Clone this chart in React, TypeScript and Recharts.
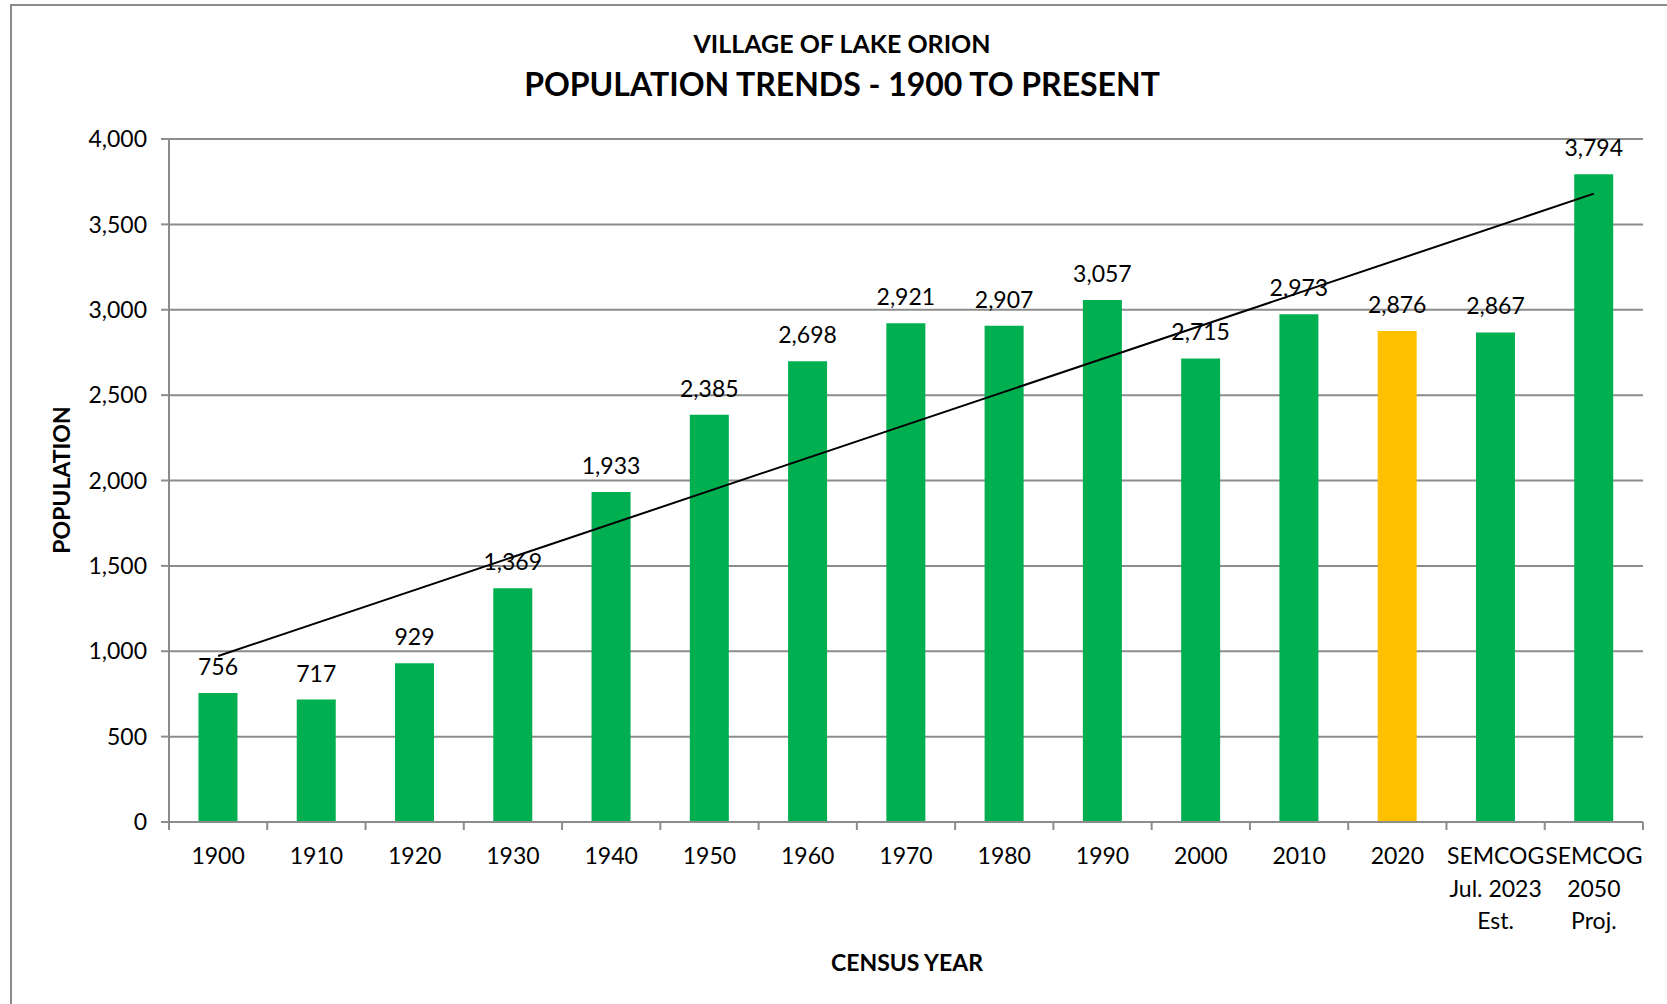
import {
  BarChart,
  Bar,
  Cell,
  XAxis,
  YAxis,
  CartesianGrid,
  LabelList,
  ReferenceLine,
} from "recharts";

// Census years plus the two SEMCOG figures; "\n" splits the tick label lines.
const CATEGORIES = [
  "1900",
  "1910",
  "1920",
  "1930",
  "1940",
  "1950",
  "1960",
  "1970",
  "1980",
  "1990",
  "2000",
  "2010",
  "2020",
  "SEMCOG\nJul. 2023\nEst.",
  "SEMCOG\n2050\nProj.",
];
const POPULATION = [
  756, 717, 929, 1369, 1933, 2385, 2698, 2921, 2907, 3057, 2715, 2973, 2876,
  2867, 3794,
];
const Y_TICKS = [0, 500, 1000, 1500, 2000, 2500, 3000, 3500, 4000];

// Linear trend line ends.
const TREND_START = 972;
const TREND_END = 3680;

const HIGHLIGHT = "2020";

const GREEN = "#00b050";
const YELLOW = "#ffc000";
const GRID = "#8c8c8c";
const FONT = "Lato, 'Open Sans', sans-serif";

const rows = CATEGORIES.map((c, i) => ({ year: c, pop: POPULATION[i] }));

function YearTick(props: any) {
  const { x, y, payload, index } = props;
  const half = payload.offset ?? 0;
  const lines = String(payload.value).split("\n");
  const last = index === CATEGORIES.length - 1;
  return (
    <g>
      <line x1={x - half} x2={x - half} y1={y - 8} y2={y} stroke={GRID} strokeWidth={2} />
      {last && <line x1={x + half} x2={x + half} y1={y - 8} y2={y} stroke={GRID} strokeWidth={2} />}
      <text x={x} y={y + 34} textAnchor="middle" fontSize={23} fill="#000" fontFamily={FONT}>
        {lines.map((l, i) => (
          <tspan key={i} x={x} dy={i === 0 ? 0 : 32.5}>
            {l}
          </tspan>
        ))}
      </text>
    </g>
  );
}

export default function App() {
  return (
    <div
      style={{
        position: "absolute",
        left: 0,
        top: 0,
        width: 1667,
        height: 1004,
        overflow: "hidden",
        background: "#fff",
        fontFamily: FONT,
      }}
    >
      <div
        style={{
          position: "absolute",
          left: 10,
          top: 4,
          width: 1700,
          height: 1100,
          border: "2px solid #8c8c8c",
        }}
      />
      <div
        style={{
          position: "absolute",
          left: 842,
          top: 31,
          transform: "translateX(-50%)",
          whiteSpace: "nowrap",
          fontSize: 25,
          lineHeight: 1,
          fontWeight: 700,
        }}
      >
        VILLAGE OF LAKE ORION
      </div>
      <div
        style={{
          position: "absolute",
          left: 842,
          top: 68,
          transform: "translateX(-50%)",
          whiteSpace: "nowrap",
          fontSize: 32,
          lineHeight: 1,
          fontWeight: 700,
        }}
      >
        POPULATION TRENDS - 1900 TO PRESENT
      </div>
      <div
        style={{
          position: "absolute",
          left: 61,
          top: 480,
          transform: "translate(-50%, -50%) rotate(-90deg)",
          whiteSpace: "nowrap",
          fontSize: 23,
          lineHeight: 1,
          fontWeight: 700,
        }}
      >
        POPULATION
      </div>
      <div
        style={{
          position: "absolute",
          left: 907,
          top: 962,
          transform: "translate(-50%, -50%)",
          whiteSpace: "nowrap",
          fontSize: 23,
          lineHeight: 1,
          fontWeight: 700,
        }}
      >
        CENSUS YEAR
      </div>
      <div style={{ position: "absolute", left: 0, top: 0 }}>
        <BarChart
          width={1667}
          height={1004}
          data={rows}
          margin={{ top: 139, right: 24, bottom: 122, left: 89 }}
          barCategoryGap="30%"
        >
          <CartesianGrid vertical={false} stroke={GRID} strokeWidth={2} />
          <XAxis
            dataKey="year"
            height={60}
            interval={0}
            axisLine={{ stroke: GRID, strokeWidth: 2 }}
            tickLine={false}
            tick={<YearTick />}
          />
          <YAxis
            width={80}
            domain={[0, 4000]}
            ticks={Y_TICKS}
            interval={0}
            axisLine={{ stroke: GRID, strokeWidth: 2 }}
            tickLine={{ stroke: GRID, strokeWidth: 2 }}
            tickSize={8}
            tickMargin={14}
            tick={{ fontSize: 23, fill: "#000", fontFamily: FONT }}
            tickFormatter={(v: number) => v.toLocaleString("en-US")}
          />
          <Bar dataKey="pop" isAnimationActive={false}>
            {rows.map((r) => (
              <Cell key={r.year} fill={r.year === HIGHLIGHT ? YELLOW : GREEN} />
            ))}
            <LabelList
              dataKey="pop"
              position="top"
              offset={18}
              fontSize={23}
              fill="#000"
              fontFamily={FONT}
              formatter={(v: any) => Number(v).toLocaleString("en-US")}
            />
          </Bar>
          <ReferenceLine
            segment={[
              { x: CATEGORIES[0], y: TREND_START },
              { x: CATEGORIES[CATEGORIES.length - 1], y: TREND_END },
            ]}
            stroke="#000"
            strokeWidth={2}
            ifOverflow="visible"
          />
        </BarChart>
      </div>
    </div>
  );
}
